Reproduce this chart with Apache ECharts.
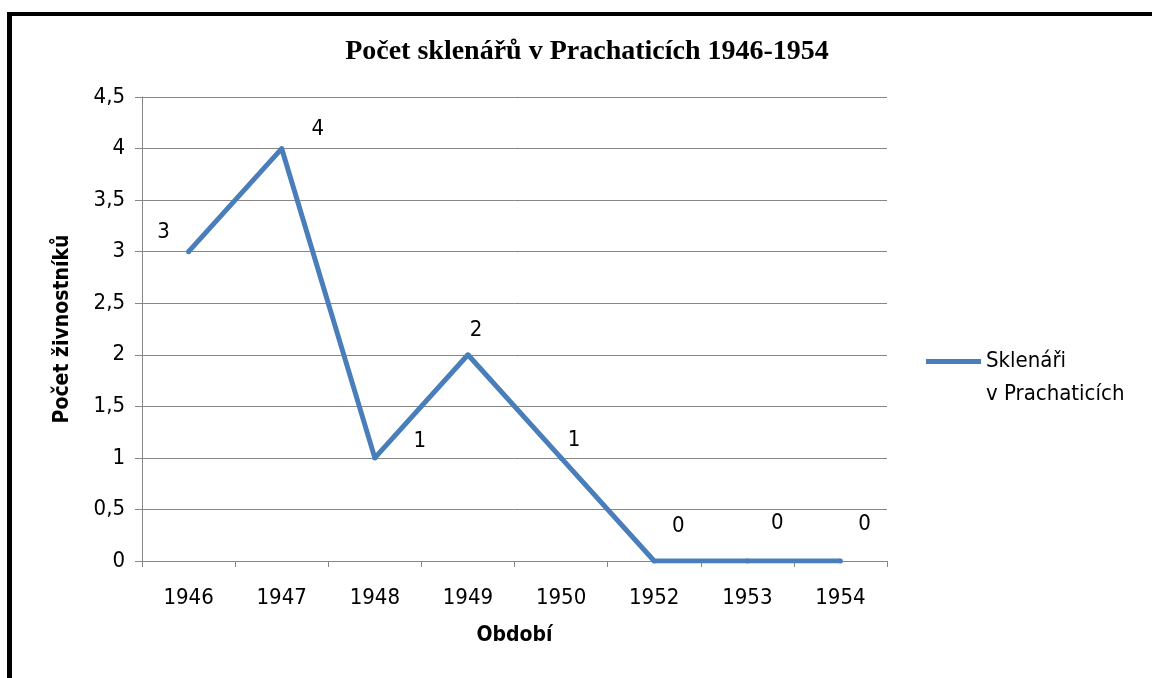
<!DOCTYPE html>
<html>
<head>
<meta charset="utf-8">
<script src="https://cdn.jsdelivr.net/npm/echarts@6/dist/echarts.min.js"></script>
<style>
  html, body { margin: 0; padding: 0; background: #fff; }
  #chart { width: 1152px; height: 678px; }
  #frame { position: absolute; left: 7px; top: 12px; right: -10px; bottom: -10px;
           border-left: 5px solid #000; border-top: 4px solid #000; pointer-events: none; }
</style>
</head>
<body>
<div id="chart"></div>
<div id="frame"></div>
<script>
const years = ['1946', '1947', '1948', '1949', '1950', '1952', '1953', '1954'];
const glaziers = [3, 4, 1, 2, 1, 0, 0, 0];
// label nudges
const labelOffsets = [[-25, 2], [36, 2], [45, 5], [8, -3], [13, 4], [24, -13], [30, -16], [24, -15]];

const font = '"DejaVu Sans Condensed", "Liberation Sans Narrow", Lato, sans-serif';
const gray = '#868686';

const chart = echarts.init(document.getElementById('chart'));
chart.setOption({
  backgroundColor: '#fff',
  animation: false,
  title: {
    text: 'Počet sklenářů v Prachaticích 1946-1954',
    left: 582, top: 33, textAlign: 'center',
    textStyle: { fontFamily: '"Liberation Serif", "Times New Roman", serif', fontWeight: 'bold', fontSize: 28, color: '#000' }
  },
  legend: {
    left: 921, top: 307,
    icon: 'rect', itemWidth: 55, itemHeight: 5,
    // blank first line keeps the icon level with "Sklenáři"
    formatter: () => ' \nSklenáři\nv Prachaticích',
    textStyle: { fontFamily: font, fontSize: 22, color: '#000', lineHeight: 33 }
  },
  grid: { left: 142, right: 265, top: 97, bottom: 117 },
  xAxis: {
    type: 'category',
    data: years,
    name: 'Období',
    nameLocation: 'middle',
    nameGap: 64,
    nameTextStyle: { fontFamily: font, fontWeight: 'bold', fontSize: 21, color: '#000' },
    axisLine: { lineStyle: { color: gray, width: 1 } },
    axisTick: { show: true, length: 6, lineStyle: { color: gray } },
    axisLabel: { fontFamily: font, fontSize: 22, color: '#000', margin: 26 }
  },
  yAxis: {
    type: 'value',
    min: 0, max: 4.5, interval: 0.5,
    name: 'Počet živnostníků',
    nameLocation: 'middle',
    nameGap: 69,
    nameRotate: 90,
    nameTextStyle: { fontFamily: font, fontWeight: 'bold', fontSize: 21, color: '#000' },
    axisLine: { show: true, lineStyle: { color: gray, width: 1 } },
    axisTick: { show: true, length: 7, lineStyle: { color: gray } },
    axisLabel: {
      fontFamily: font, fontSize: 22, color: '#000', margin: 17,
      formatter: v => String(v).replace('.', ',')
    },
    splitLine: { lineStyle: { color: gray, width: 1 } }
  },
  series: [{
    name: 'Sklenáři v Prachaticích',
    type: 'line',
    data: glaziers.map((v, i) => ({
      value: v,
      label: { offset: labelOffsets[i] }
    })),
    symbol: 'circle',
    symbolSize: 5,
    lineStyle: { color: '#4a7ebb', width: 5 },
    itemStyle: { color: '#4a7ebb' },
    label: {
      show: true, position: 'top', distance: 8,
      fontFamily: font, fontSize: 22, color: '#000'
    }
  }]
});
</script>
</body>
</html>
